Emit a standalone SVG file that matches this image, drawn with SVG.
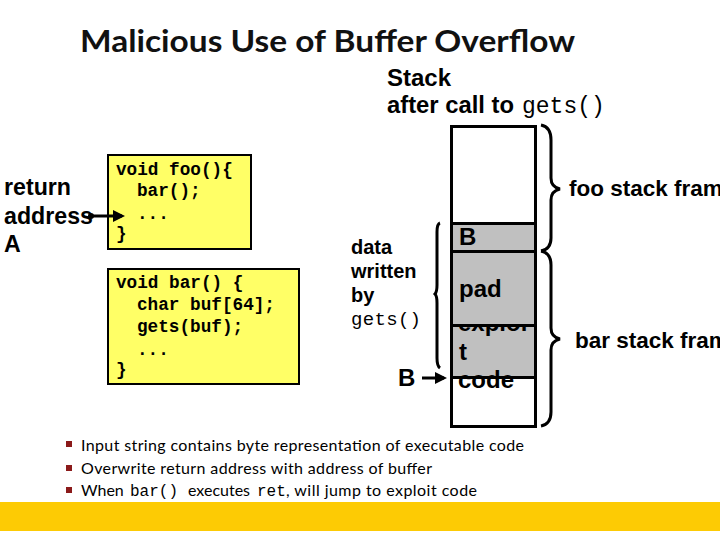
<svg xmlns="http://www.w3.org/2000/svg" width="720" height="540" viewBox="0 0 720 540">
<style>
.a{font-family:"Liberation Sans",Arial,sans-serif;fill:#000;font-weight:bold}
.m{font-family:"Liberation Mono","Courier New",monospace;fill:#000}
.c{font-size:17.700px;font-weight:bold}
.l{font-family:Lato,"Open Sans",sans-serif;font-size:16px;fill:#000}
.box{fill:#ffff66;stroke:#000;stroke-width:2}
.g{fill:#c0c0c0;stroke:#000;stroke-width:3}
.br{fill:none;stroke:#000;stroke-width:3}
.ln{fill:none;stroke:#000;stroke-width:3}
.b{font-size:24px}
.r{font-size:23.200px}
</style>
<defs>
<marker id="ah" markerWidth="4" markerHeight="4" refX="3" refY="2" orient="auto"><path d="M0 0L4 2L0 4Z" fill="#000"/></marker>
</defs>
<rect width="720" height="540" fill="#fff"/>
<rect x="0" y="502" width="720" height="29" fill="#fdcb04"/>
<text x="80" y="52" font-family="Lato,sans-serif" font-weight="bold" font-size="31px" fill="#111" textLength="495" lengthAdjust="spacingAndGlyphs">Malicious Use of Buffer Overflow</text>
<g id="stack-title">
<text class="a b" x="387" y="86">Stack</text>
<text class="a b" x="387" y="113" textLength="127" lengthAdjust="spacingAndGlyphs">after call to</text>
<text class="m" x="522" y="113" font-size="23px">gets()</text>
</g>
<g id="return-address">
<text class="a r" x="4" y="195">return</text>
<text class="a r" x="4" y="224">address</text>
<text class="a r" x="4" y="252">A</text>
</g>
<g id="foo">
<rect class="box" x="108" y="155" width="143" height="94"/>
<text class="m c" x="116" y="175">void foo(){</text>
<text class="m c" x="137" y="196">bar();</text>
<text class="m c" x="137" y="219">...</text>
<text class="m c" x="116" y="239">}</text>
</g>
<g id="bar">
<rect class="box" x="108" y="269" width="191" height="115"/>
<text class="m c" x="116" y="288">void bar() {</text>
<text class="m c" x="137" y="310">char buf[64];</text>
<text class="m c" x="137" y="332">gets(buf);</text>
<text class="m c" x="137" y="355">...</text>
<text class="m c" x="116" y="375">}</text>
</g>
<g id="stack">
<rect x="451.500" y="126.500" width="84" height="300" fill="#fff" stroke="#000" stroke-width="3"/>
<rect class="g" x="451.500" y="325.500" width="84" height="52"/>
<text class="a b" x="458" y="331">exploi</text>
<rect class="g" x="451.500" y="223.500" width="84" height="28"/>
<rect class="g" x="451.500" y="251.500" width="84" height="74"/>
<text class="a b" x="459" y="245">B</text>
<text class="a b" x="459" y="297">pad</text>
<text class="a b" x="459" y="360">t</text>
<text class="a b" x="458" y="388">code</text>
<rect x="451" y="376" width="85" height="3" fill="#000"/>
</g>
<g id="data-label">
<text class="a" x="351" y="254" font-size="20px">data</text>
<text class="a" x="351" y="278" font-size="20px">written</text>
<text class="a" x="351" y="302" font-size="20px">by</text>
<text class="m" x="351" y="325" font-size="19px" textLength="70">gets()</text>
<text class="a b" x="398" y="386">B</text>
</g>
<g id="foo-label"><text class="a" x="569" y="196" font-size="22.500px">foo stack fram</text></g>
<g id="bar-label"><text class="a" x="575" y="348" font-size="22.500px">bar stack fram</text></g>
<g id="connectors">
<path class="ln" d="M91 216H122" marker-end="url(#ah)"/>
<circle cx="91" cy="216" r="3" fill="#000"/>
<path class="ln" d="M422 378H444" marker-end="url(#ah)"/>
<path class="br" d="M541 125Q551 127 551 140V178Q551 187 560 189Q551 191 551 200V238Q551 249 541 251"/>
<path class="br" d="M541 251Q551 253 551 265V328Q551 337 560 339Q551 341 551 350V412Q551 424 541 426"/>
<path class="br" d="M440 223Q437 224 437 232V285Q437 292 435 294Q437 296 437 303V358Q437 366 440 368"/>
</g>
<g id="bullets">
<rect x="66" y="441" width="6" height="6" fill="#8b1a1a"/>
<rect x="66" y="465" width="6" height="6" fill="#8b1a1a"/>
<rect x="66" y="487" width="6" height="6" fill="#8b1a1a"/>
<text class="l" x="81" y="451" textLength="443">Input string contains byte representation of executable code</text>
<text class="l" x="81" y="474" textLength="351">Overwrite return address with address of buffer</text>
<text class="l" x="81" y="496">When</text>
<text class="m" x="130" y="496" font-size="16px">bar()</text>
<text class="l" x="188" y="496">executes</text>
<text class="m" x="257" y="496" font-size="16px">ret</text>
<text class="l" x="286" y="496" textLength="191">, will jump to exploit code</text>
</g>
</svg>
